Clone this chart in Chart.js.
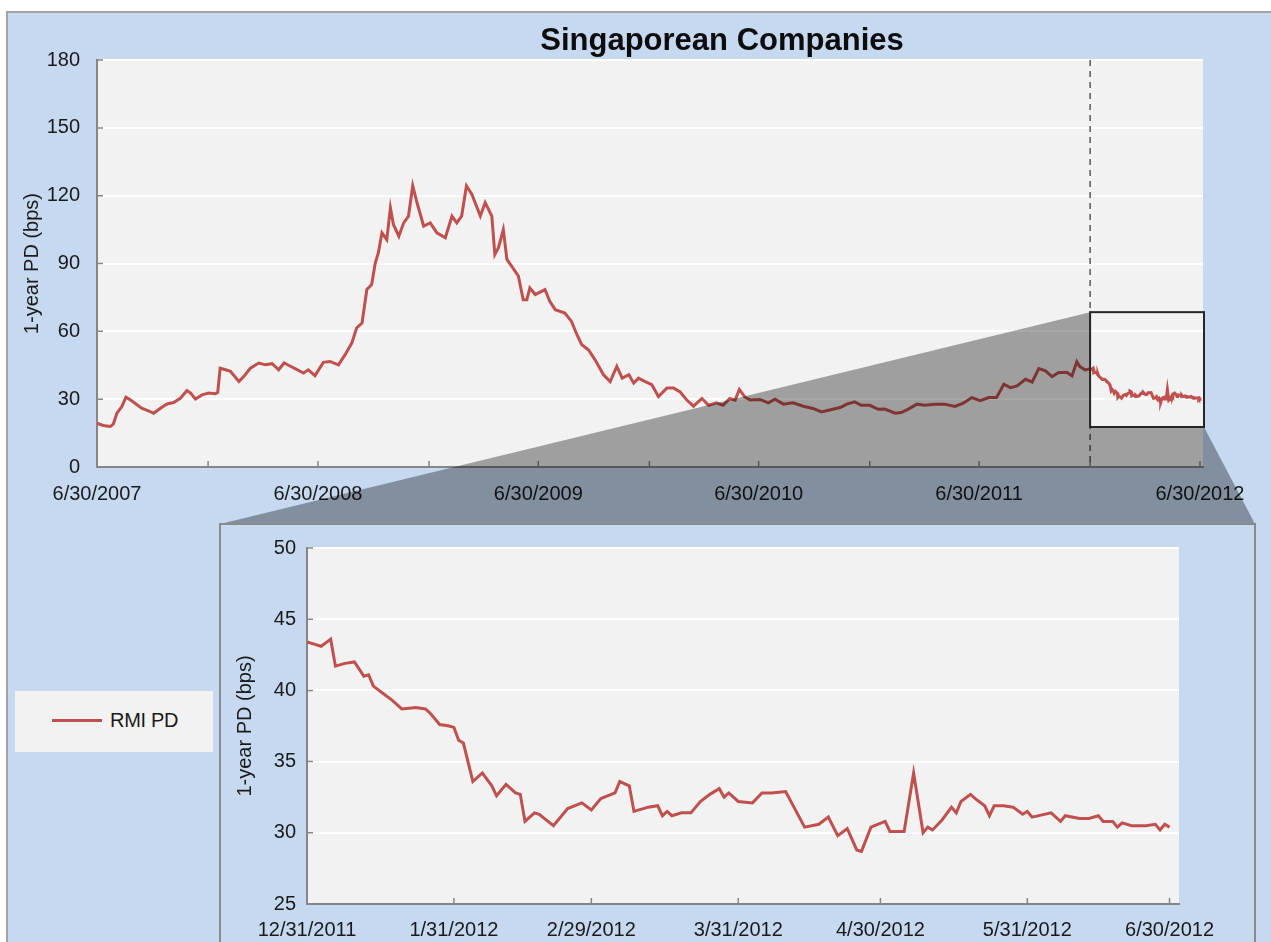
<!DOCTYPE html>
<html>
<head>
<meta charset="utf-8">
<title>Singaporean Companies</title>
<script src="https://cdn.jsdelivr.net/npm/chart.js@4.4.1/dist/chart.umd.min.js"></script>
<style>
html, body { margin: 0; padding: 0; width: 1271px; height: 942px; overflow: hidden; background: #fff;
  font-family: "Liberation Sans", Arial, sans-serif; }
#frame { position: absolute; left: 6px; top: 11px; width: 1400px; height: 1000px; background: #C6D9F1; border: 2px solid #A3A3A3; }
#topChart { position: absolute; left: 0; top: 0; }
#inset { position: absolute; left: 219px; top: 523px; width: 1033px; height: 440px; background: #C6D9F1; border: 2px solid #8A8A8A; }
#inset canvas { position: absolute; left: 0; top: 0; }
#legend { position: absolute; left: 15px; top: 691px; width: 198px; height: 61px; background: #F2F2F2; }
#legend .swatch { position: absolute; left: 37px; top: 28px; width: 50px; height: 3px; background: #C0504D; }
#legend .label { position: absolute; left: 95px; top: 18px; font-size: 20px; color: #1A1A1A; letter-spacing: -0.3px; }
</style>
</head>
<body>
<div id="frame"></div>
<canvas id="topChart" width="1444" height="942"></canvas>
<div id="inset"><canvas id="zoomChart" width="1033" height="417"></canvas></div>
<div id="legend"><span class="swatch"></span><span class="label">RMI PD</span></div>
<script>
// RMI 1-year PD, Singaporean companies (bps)
const histDates = [
  '2007-06-30','2007-07-08','2007-07-13','2007-07-22','2007-07-27','2007-08-02','2007-08-10','2007-08-17',
  '2007-08-24','2007-09-01','2007-09-12','2007-09-26','2007-10-02','2007-10-13','2007-10-24','2007-11-04',
  '2007-11-15','2007-11-26','2007-12-02','2007-12-10','2007-12-21','2008-01-01','2008-01-12','2008-01-16',
  '2008-01-20','2008-01-29','2008-02-06','2008-02-20','2008-02-28','2008-03-10','2008-03-24','2008-04-04',
  '2008-04-15','2008-04-26','2008-05-05','2008-05-13','2008-05-24','2008-06-06','2008-06-14','2008-06-25',
  '2008-07-09','2008-07-20','2008-08-03','2008-08-14','2008-08-25','2008-09-02','2008-09-11','2008-09-19',
  '2008-09-27','2008-10-03','2008-10-08','2008-10-14','2008-10-22','2008-10-28','2008-11-02','2008-11-11',
  '2008-11-19','2008-11-27','2008-12-04','2008-12-11','2008-12-22','2009-01-02','2009-01-13','2009-01-27',
  '2009-02-07','2009-02-15','2009-02-23','2009-03-03','2009-03-12','2009-03-26','2009-04-03','2009-04-14',
  '2009-04-19','2009-04-25','2009-05-03','2009-05-09','2009-05-17','2009-05-28','2009-06-05','2009-06-11',
  '2009-06-16','2009-06-25','2009-07-11','2009-07-19','2009-07-28','2009-08-13','2009-08-24','2009-09-02',
  '2009-09-10','2009-09-21','2009-10-02','2009-10-16','2009-10-27','2009-11-07','2009-11-16','2009-11-27',
  '2009-12-05','2009-12-13','2009-12-24','2010-01-04','2010-01-15','2010-01-29','2010-02-09','2010-02-20',
  '2010-03-03','2010-03-14','2010-03-28','2010-04-08','2010-04-21','2010-05-02','2010-05-13','2010-05-22',
  '2010-05-29','2010-06-07','2010-06-16','2010-07-02','2010-07-16','2010-07-27','2010-08-10','2010-08-26',
  '2010-09-12','2010-09-28','2010-10-12','2010-10-29','2010-11-12','2010-11-23','2010-12-06','2010-12-17',
  '2010-12-31','2011-01-14','2011-01-25','2011-02-11','2011-02-21','2011-03-05','2011-03-19','2011-04-01',
  '2011-04-18','2011-05-04','2011-05-21','2011-06-04','2011-06-18','2011-07-02','2011-07-16','2011-07-29',
  '2011-08-10','2011-08-21','2011-09-01','2011-09-15','2011-09-26','2011-10-07','2011-10-18','2011-10-29',
  '2011-11-09','2011-11-23','2011-12-01','2011-12-09','2011-12-14','2011-12-23'
];
const histPD = [
  19.4, 18.6, 18.2, 17.9, 19.0, 23.8, 26.7, 30.9,
  29.7, 28.2, 26.0, 24.5, 23.8, 26.0, 27.9, 28.5,
  30.4, 33.8, 32.7, 30.1, 31.9, 32.7, 32.4, 33.0,
  43.7, 43.0, 42.3, 37.8, 40.0, 43.7, 46.0, 45.2,
  45.7, 43.0, 46.0, 44.9, 43.4, 41.6, 43.0, 40.4,
  46.3, 46.7, 45.2, 49.7, 54.8, 61.5, 63.7, 78.5,
  80.7, 90.3, 94.7, 103.6, 100.6, 114.7, 107.3, 102.1,
  108.0, 111.0, 124.4, 117.0, 106.6, 108.0, 103.6, 101.4,
  111.0, 108.0, 111.0, 124.4, 120.6, 111.0, 117.0, 111.0,
  94.0, 97.0, 105.0, 91.8, 88.8, 84.4, 74.0, 74.0,
  79.2, 76.3, 78.5, 73.3, 69.6, 68.1, 64.4, 58.5,
  54.1, 51.9, 47.4, 40.8, 37.8, 44.5, 39.3, 40.8,
  37.1, 39.3, 37.8, 36.4, 31.2, 34.9, 34.9, 33.2,
  29.6, 26.9, 30.3, 27.3, 28.4, 27.3, 30.3, 29.6,
  34.3, 31.0, 29.6, 29.9, 28.4, 30.0, 27.8, 28.4,
  26.9, 25.9, 24.4, 25.4, 26.3, 27.8, 28.8, 27.3,
  27.3, 25.5, 25.6, 23.8, 24.1, 25.6, 27.8, 27.3,
  27.8, 27.8, 26.8, 28.2, 30.7, 29.3, 30.7, 30.7,
  36.6, 35.1, 35.9, 38.8, 37.6, 43.5, 42.5, 40.0,
  41.8, 41.8, 40.3, 46.6, 44.4, 42.9
];

// last six months, shown again in the zoomed panel
const zoomDates = [
  '2011-12-31','2012-01-03','2012-01-05','2012-01-06','2012-01-08','2012-01-10','2012-01-12','2012-01-13',
  '2012-01-14','2012-01-16','2012-01-18','2012-01-20','2012-01-23','2012-01-25','2012-01-26','2012-01-28',
  '2012-01-30','2012-01-31','2012-02-01','2012-02-02','2012-02-04','2012-02-06','2012-02-08','2012-02-09',
  '2012-02-11','2012-02-13','2012-02-14','2012-02-15','2012-02-17','2012-02-18','2012-02-21','2012-02-24',
  '2012-02-27','2012-02-29','2012-03-02','2012-03-05','2012-03-06','2012-03-08','2012-03-09','2012-03-12',
  '2012-03-14','2012-03-15','2012-03-16','2012-03-17','2012-03-19','2012-03-21','2012-03-23','2012-03-25',
  '2012-03-27','2012-03-28','2012-03-29','2012-03-31','2012-04-03','2012-04-05','2012-04-07','2012-04-10',
  '2012-04-14','2012-04-17','2012-04-19','2012-04-21','2012-04-23','2012-04-25','2012-04-26','2012-04-28',
  '2012-05-01','2012-05-02','2012-05-05','2012-05-07','2012-05-09','2012-05-10','2012-05-11','2012-05-13',
  '2012-05-15','2012-05-16','2012-05-17','2012-05-19','2012-05-20','2012-05-22','2012-05-23','2012-05-24',
  '2012-05-26','2012-05-28','2012-05-30','2012-05-31','2012-06-01','2012-06-05','2012-06-07','2012-06-08',
  '2012-06-11','2012-06-13','2012-06-15','2012-06-16','2012-06-18','2012-06-19','2012-06-20','2012-06-22',
  '2012-06-25','2012-06-27','2012-06-28','2012-06-29','2012-06-30'
];
const zoomPD = [
  43.4, 43.1, 43.6, 41.7, 41.9, 42.0, 41.0, 41.1,
  40.3, 39.8, 39.3, 38.7, 38.8, 38.7, 38.4, 37.6,
  37.5, 37.4, 36.5, 36.3, 33.6, 34.2, 33.3, 32.6,
  33.4, 32.8, 32.7, 30.8, 31.4, 31.3, 30.5, 31.7,
  32.1, 31.6, 32.4, 32.8, 33.6, 33.3, 31.5, 31.8,
  31.9, 31.2, 31.5, 31.2, 31.4, 31.4, 32.2, 32.7,
  33.1, 32.5, 32.8, 32.2, 32.1, 32.8, 32.8, 32.9,
  30.4, 30.6, 31.1, 29.8, 30.3, 28.8, 28.7, 30.4,
  30.8, 30.1, 30.1, 34.2, 30.0, 30.4, 30.2, 30.9,
  31.8, 31.4, 32.2, 32.7, 32.4, 31.9, 31.2, 31.9,
  31.9, 31.8, 31.3, 31.5, 31.1, 31.4, 30.8, 31.2,
  31.0, 31.0, 31.2, 30.8, 30.8, 30.4, 30.7, 30.5,
  30.5, 30.6, 30.2, 30.6, 30.4
];

const topTickDates = ['2007-06-30','2007-12-31','2008-06-30','2008-12-31','2009-06-30','2009-12-31',
  '2010-06-30','2010-12-31','2011-06-30','2011-12-31','2012-06-30'];
const topTickLabels = ['6/30/2007','','6/30/2008','','6/30/2009','','6/30/2010','','6/30/2011','','6/30/2012'];
const zoomTickDates = ['2011-12-31','2012-01-31','2012-02-29','2012-03-31','2012-04-30','2012-05-31','2012-06-30'];
const zoomTickLabels = ['12/31/2011','1/31/2012','2/29/2012','3/31/2012','4/30/2012','5/31/2012','6/30/2012'];
const zoomBoxPD = [17.7, 68.5];   // y-range of the highlight box on the top chart

const RED = '#C0504D';
const AXIS = '#868686';
const TXT = '#1A1A1A';
// where the inset panel sits on the page (top canvas is at 0,0)
const insetFrame = { left: 220, right: 1255, top: 524 };

Chart.defaults.font.family = '"Liberation Sans", Arial, sans-serif';
Chart.defaults.font.size = 20;
Chart.defaults.color = TXT;

const dayNum = s => Date.parse(s + 'T00:00:00Z') / 864e5;
const toPoints = (dates, vals) => dates.map((d, i) => ({ x: dayNum(d), y: vals[i] }));

// grey plot background + short tick marks pointing into the plot
const plotDecor = {
  id: 'plotDecor',
  beforeDraw(chart) {
    const a = chart.chartArea, ctx = chart.ctx;
    ctx.save();
    ctx.fillStyle = '#F2F2F2';
    ctx.fillRect(a.left, a.top, a.right - a.left, a.bottom - a.top);
    ctx.restore();
  },
  beforeDatasetsDraw(chart) {
    const { x, y } = chart.scales, ctx = chart.ctx;
    ctx.save();
    ctx.strokeStyle = AXIS;
    ctx.lineWidth = 1.5;
    ctx.beginPath();
    x.ticks.forEach(t => {
      const px = x.getPixelForValue(t.value);
      ctx.moveTo(px, y.bottom);
      ctx.lineTo(px, y.bottom - 6);
    });
    y.ticks.forEach(t => {
      const py = y.getPixelForValue(t.value);
      ctx.moveTo(x.left, py);
      ctx.lineTo(x.left + 6, py);
    });
    ctx.stroke();
    ctx.restore();
  }
};

// dashed marker, highlight box and the grey "zoom" wedge to the inset
const zoomOverlay = {
  id: 'zoomOverlay',
  beforeDatasetsDraw(chart) {
    const { x, y } = chart.scales, ctx = chart.ctx;
    const px = x.getPixelForValue(dayNum(zoomTickDates[0]));
    ctx.save();
    ctx.strokeStyle = '#595959';
    ctx.lineWidth = 1.5;
    ctx.setLineDash([6, 5]);
    ctx.beginPath();
    ctx.moveTo(px, y.top);
    ctx.lineTo(px, y.bottom);
    ctx.stroke();
    ctx.restore();
  },
  afterDatasetsDraw(chart) {
    const { x, y } = chart.scales, ctx = chart.ctx;
    const bx0 = x.getPixelForValue(dayNum(zoomTickDates[0]));
    const bx1 = x.right + 1;
    const by0 = y.getPixelForValue(zoomBoxPD[1]);
    const by1 = y.getPixelForValue(zoomBoxPD[0]);
    ctx.save();
    ctx.fillStyle = 'rgba(0,0,0,0.34)';
    ctx.beginPath();
    ctx.moveTo(insetFrame.left, insetFrame.top);
    ctx.lineTo(bx0, by0);
    ctx.lineTo(bx0, by1);
    ctx.lineTo(bx1, by1);
    ctx.lineTo(insetFrame.right, insetFrame.top);
    ctx.closePath();
    ctx.fill();
    ctx.strokeStyle = '#262626';
    ctx.lineWidth = 2;
    ctx.strokeRect(bx0, by0, bx1 - bx0, by1 - by0);
    ctx.restore();
  }
};

function makeScales(o) {
  const scales = {
    x: {
      type: 'linear',
      min: o.xMin,
      max: o.xMax,
      afterBuildTicks: s => { s.ticks = o.tickDates.map(d => ({ value: dayNum(d) })); },
      afterFit: s => { s.height = o.xHeight; },
      ticks: { autoSkip: false, maxRotation: 0, minRotation: 0, padding: o.xPad, color: TXT,
        callback: (v, i) => o.tickLabels[i] },
      grid: { display: false },
      border: { color: AXIS, width: 2 }
    },
    y: {
      min: o.yMin,
      max: o.yMax,
      afterFit: s => { s.width = o.yWidth; },
      ticks: { stepSize: o.yStep, padding: o.yPad, color: TXT },
      grid: { color: c => c.tick.value === o.yMin ? 'rgba(0,0,0,0)' : '#FFFFFF', lineWidth: 2, drawTicks: false },
      border: { color: AXIS, width: 2 },
      title: { display: true, text: '1-year PD (bps)', color: TXT, font: { size: 20 },
        padding: { top: o.titlePad, bottom: 0 } }
    }
  };
  if (o.rightSpace) {
    // empty right-hand axis: keeps the plot narrow while the title centres on the full canvas
    scales.ySpace = {
      position: 'right',
      afterFit: s => { s.width = o.rightSpace; },
      ticks: { display: false },
      grid: { display: false },
      border: { display: false }
    };
  }
  return scales;
}

new Chart(document.getElementById('topChart'), {
  type: 'line',
  data: {
    datasets: [{
      label: 'RMI PD',
      data: toPoints(histDates.concat(zoomDates), histPD.concat(zoomPD)),
      borderColor: RED,
      borderWidth: 3,
      pointRadius: 0,
      tension: 0
    }]
  },
  options: {
    responsive: false,
    animation: false,
    devicePixelRatio: 1,
    layout: { padding: { top: 0, left: 0, right: 0, bottom: 435 } },
    plugins: {
      legend: { display: false },
      tooltip: { enabled: false },
      title: { display: true, text: 'Singaporean Companies', color: '#0D0D0D',
        font: { size: 31, weight: 'bold', lineHeight: 1.1 }, padding: { top: 24, bottom: 2 } }
    },
    scales: makeScales({
      xMin: dayNum('2007-06-30'), xMax: dayNum('2012-07-05'),
      tickDates: topTickDates, tickLabels: topTickLabels, xHeight: 40, xPad: 7,
      yMin: 0, yMax: 180, yStep: 30, yWidth: 97, yPad: 17, titlePad: 20, rightSpace: 241
    })
  },
  plugins: [plotDecor, zoomOverlay]
});

new Chart(document.getElementById('zoomChart'), {
  type: 'line',
  data: {
    datasets: [{
      label: 'RMI PD',
      data: toPoints(zoomDates, zoomPD),
      borderColor: RED,
      borderWidth: 3,
      pointRadius: 0,
      tension: 0
    }]
  },
  options: {
    responsive: false,
    animation: false,
    devicePixelRatio: 1,
    layout: { padding: { top: 23, left: 0, right: 75, bottom: 0 } },
    plugins: {
      legend: { display: false },
      tooltip: { enabled: false }
    },
    scales: makeScales({
      xMin: dayNum('2011-12-31'), xMax: dayNum('2012-07-02'),
      tickDates: zoomTickDates, tickLabels: zoomTickLabels, xHeight: 38, xPad: 6,
      yMin: 25, yMax: 50, yStep: 5, yWidth: 86, yPad: 11, titlePad: 12
    })
  },
  plugins: [plotDecor]
});
</script>
</body>
</html>
